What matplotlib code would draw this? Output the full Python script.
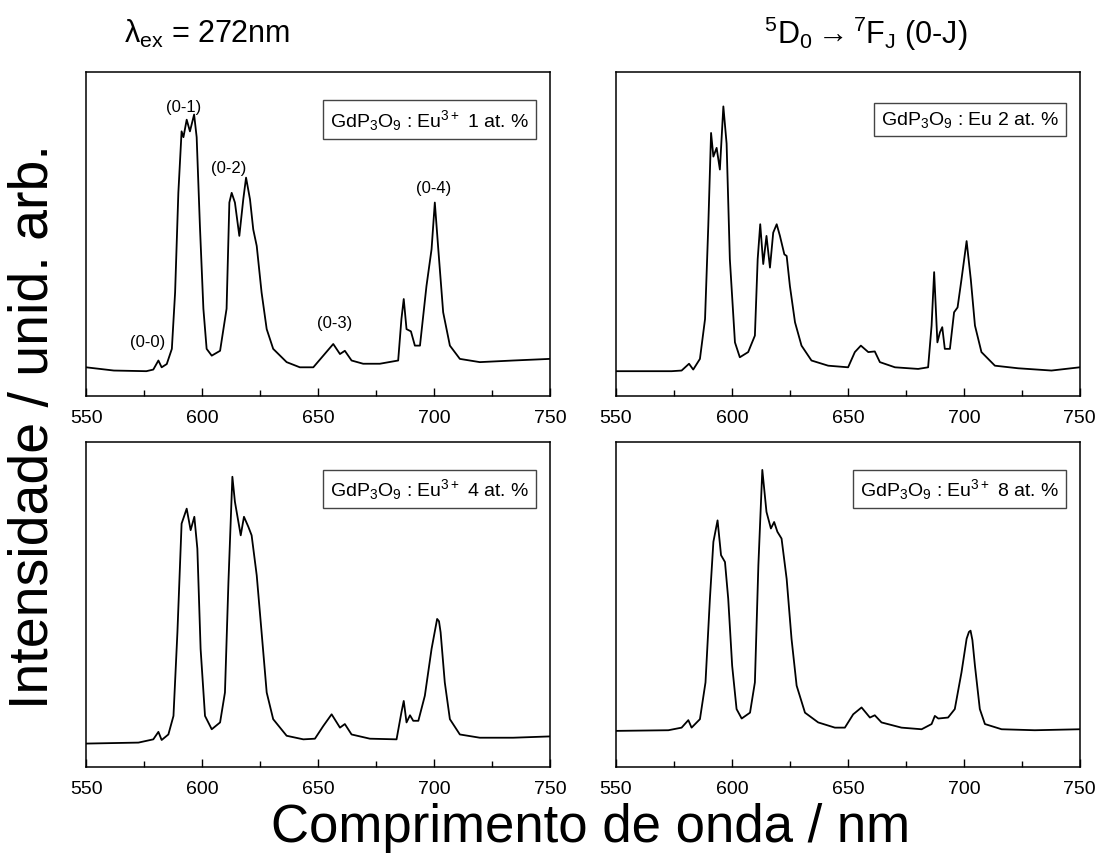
import matplotlib
matplotlib.use("Agg")
import matplotlib.pyplot as plt
from matplotlib.ticker import MultipleLocator

plt.rcParams['font.family'] = ['Liberation Sans', 'DejaVu Sans']
plt.rcParams['mathtext.fontset'] = 'custom'
plt.rcParams['mathtext.rm'] = 'Liberation Sans'
plt.rcParams['mathtext.it'] = 'Liberation Sans'
plt.rcParams['mathtext.sf'] = 'Liberation Sans'

# spectra (intensity in arbitrary units, 0-1 of panel height)
wl1 = [550, 562, 576, 579, 581.2, 582.6, 584.8, 587, 588.4, 589.8, 591.2, 592, 593.4, 594.8,
       596.6, 597.7, 599.1, 600.6, 602, 604.2, 607.8, 610.6, 611.8, 612.8, 614.2, 616.1,
       617.8, 619, 620.7, 622.1, 623.6, 625.7, 627.9, 630.7, 636.5, 642.2, 648, 652.3,
       656.6, 659.5, 661.6, 664.5, 669.5, 676.7, 684.6, 686, 687, 688.2, 690.1, 691.8, 694,
       696.8, 699, 700.4, 701.9, 704, 706.9, 711.2, 719.8, 734.2, 750]
I1 = [0.089, 0.079, 0.077, 0.082, 0.110, 0.089, 0.099, 0.146, 0.32, 0.628, 0.818, 0.80, 0.854,
      0.818, 0.87, 0.80, 0.526, 0.27, 0.146, 0.125, 0.14, 0.27, 0.598, 0.628, 0.598, 0.495,
      0.608, 0.675, 0.608, 0.515, 0.464, 0.32, 0.207, 0.146, 0.105, 0.089, 0.089, 0.125,
      0.161, 0.13, 0.14, 0.11, 0.10, 0.10, 0.11, 0.238, 0.30, 0.207, 0.20, 0.156, 0.156,
      0.34, 0.454, 0.598, 0.454, 0.259, 0.156, 0.115, 0.105, 0.11, 0.115]

wl2 = [550, 574, 578.3, 581.5, 583.3, 586.2, 588.4, 589.8, 591, 592, 593.4, 594.8, 596.3,
       597.7, 599.1, 601.3, 603.4, 607, 609.9, 611.1, 612.2, 613.5, 614.9, 616.4, 617.8,
       619.3, 620.7, 622.6, 623.6, 625, 627.2, 630, 634.3, 641.5, 650.1, 653, 655.6, 658.8,
       661.6, 663.8, 670.3, 680.3, 684.6, 686.1, 687.2, 688.6, 689.7, 690.7, 691.8, 694,
       695.8, 697.3, 699, 701.2, 703, 704.8, 707.6, 713.4, 723.4, 737.8, 750]
I2 = [0.077, 0.077, 0.079, 0.10, 0.082, 0.115, 0.238, 0.526, 0.813, 0.74, 0.767, 0.70, 0.895,
      0.78, 0.423, 0.166, 0.12, 0.136, 0.187, 0.423, 0.531, 0.408, 0.495, 0.397, 0.505,
      0.531, 0.495, 0.438, 0.433, 0.34, 0.228, 0.156, 0.11, 0.094, 0.089, 0.136, 0.156,
      0.136, 0.138, 0.105, 0.089, 0.084, 0.089, 0.218, 0.383, 0.166, 0.197, 0.213, 0.146,
      0.146, 0.259, 0.274, 0.361, 0.479, 0.361, 0.218, 0.136, 0.094, 0.086, 0.079, 0.089]

wl3 = [550, 572.6, 579, 581.2, 582.6, 585.5, 587.7, 589.4, 591.2, 593.4, 595.1, 596.7, 598,
       599.4, 601.3, 604.2, 607.8, 609.9, 611.4, 613.1, 614.2, 616.7, 618.1, 620, 621.4,
       623.6, 625.7, 627.9, 630.7, 636.5, 643.7, 648.7, 652.3, 655.9, 659.5, 661.6, 664.5,
       672.4, 683.9, 686, 687, 688.2, 689.7, 691.1, 693.3, 696.1, 699, 701.4, 702.2, 702.9,
       704.7, 706.9, 711.2, 719.8, 734.2, 750]
I3 = [0.072, 0.075, 0.085, 0.108, 0.083, 0.10, 0.157, 0.414, 0.748, 0.794, 0.728, 0.769,
      0.671, 0.363, 0.157, 0.116, 0.137, 0.229, 0.568, 0.892, 0.815, 0.712, 0.769, 0.738,
      0.712, 0.589, 0.414, 0.229, 0.147, 0.096, 0.085, 0.087, 0.126, 0.162, 0.121, 0.132,
      0.10, 0.087, 0.085, 0.168, 0.203, 0.137, 0.159, 0.142, 0.142, 0.219, 0.363, 0.455,
      0.448, 0.414, 0.26, 0.147, 0.10, 0.09, 0.09, 0.094]

wl4 = [550, 572.6, 578.3, 581.2, 582.6, 586.2, 588.6, 590.5, 592, 593.8, 595.3, 597, 598.4,
       600.1, 602, 604.2, 607.8, 609.9, 611.4, 613.1, 614.9, 616.8, 618.2, 619.6, 621.4,
       623.6, 625.7, 627.9, 631.5, 637.2, 644.4, 648.7, 652.3, 655.9, 659.5, 661.6, 664.5,
       673.1, 681.8, 686.1, 687.5, 689, 693.2, 696.1, 699, 701.2, 702.2, 702.9, 703.7, 704.8,
       706.9, 709.1, 716.3, 730.6, 750]
I4 = [0.111, 0.113, 0.121, 0.144, 0.121, 0.147, 0.26, 0.517, 0.692, 0.758, 0.651, 0.63,
      0.517, 0.311, 0.178, 0.149, 0.167, 0.26, 0.62, 0.913, 0.784, 0.733, 0.753, 0.723,
      0.702, 0.578, 0.394, 0.25, 0.167, 0.137, 0.121, 0.121, 0.162, 0.183, 0.152, 0.159,
      0.137, 0.121, 0.116, 0.132, 0.157, 0.149, 0.152, 0.178, 0.291, 0.394, 0.415, 0.419,
      0.39, 0.311, 0.178, 0.132, 0.116, 0.113, 0.116]

labels = [r'$\mathregular{GdP_3O_9}$ : $\mathregular{Eu^{3+}}$ 1 at. %',
          r'$\mathregular{GdP_3O_9}$ : Eu 2 at. %',
          r'$\mathregular{GdP_3O_9}$ : $\mathregular{Eu^{3+}}$ 4 at. %',
          r'$\mathregular{GdP_3O_9}$ : $\mathregular{Eu^{3+}}$ 8 at. %']

trans_labels = ['(0-0)', '(0-1)', '(0-2)', '(0-3)', '(0-4)']
trans_x = [576.6, 592, 611.4, 657.3, 699.7]
trans_y = [0.168, 0.895, 0.705, 0.228, 0.644]

spectra = [(wl1, I1), (wl2, I2), (wl3, I3), (wl4, I4)]
boxes = [[0.0783, 0.535, 0.422, 0.379], [0.5605, 0.535, 0.422, 0.379],
         [0.0783, 0.1007, 0.422, 0.381], [0.5605, 0.1007, 0.422, 0.381]]

fig = plt.figure(figsize=(10.99, 8.54), dpi=100)

for i in range(4):
    ax = fig.add_axes(boxes[i])
    wl, inten = spectra[i]
    ax.plot(wl, inten, color='black', lw=1.3)
    ax.set_xlim(550, 750)
    ax.set_ylim(0, 1)
    ax.xaxis.set_major_locator(MultipleLocator(50))
    ax.xaxis.set_minor_locator(MultipleLocator(25))
    ax.tick_params(axis='x', which='major', direction='in', length=6, width=1,
                   labelsize=14, pad=9)
    ax.tick_params(axis='x', which='minor', direction='in', length=4, width=1)
    ax.set_yticks([])
    for s in ax.spines.values():
        s.set_linewidth(1.1)
    ax.text(0.955, 0.855, labels[i], transform=ax.transAxes, ha='right', va='center',
            fontsize=14, bbox=dict(boxstyle='square,pad=0.35', fc='white', ec='#444444', lw=1))
    if i == 0:
        for t, x, y in zip(trans_labels, trans_x, trans_y):
            ax.text(x, y, t, ha='center', va='center', fontsize=12)

fig.text(0.188, 0.96, r'$\lambda_{\mathregular{ex}}$ = 272nm', ha='center', va='center', fontsize=22)
fig.text(0.788, 0.96, r'$\mathregular{^5D_0 \rightarrow {}^7F_J}$ (0-J)', ha='center', va='center', fontsize=22)
fig.text(0.031, 0.5, 'Intensidade / unid. arb.', rotation=90, ha='center', va='center', fontsize=40)
fig.text(0.537, 0.014, 'Comprimento de onda / nm', ha='center', va='baseline', fontsize=38)

fig.savefig('out.png', dpi=100)
